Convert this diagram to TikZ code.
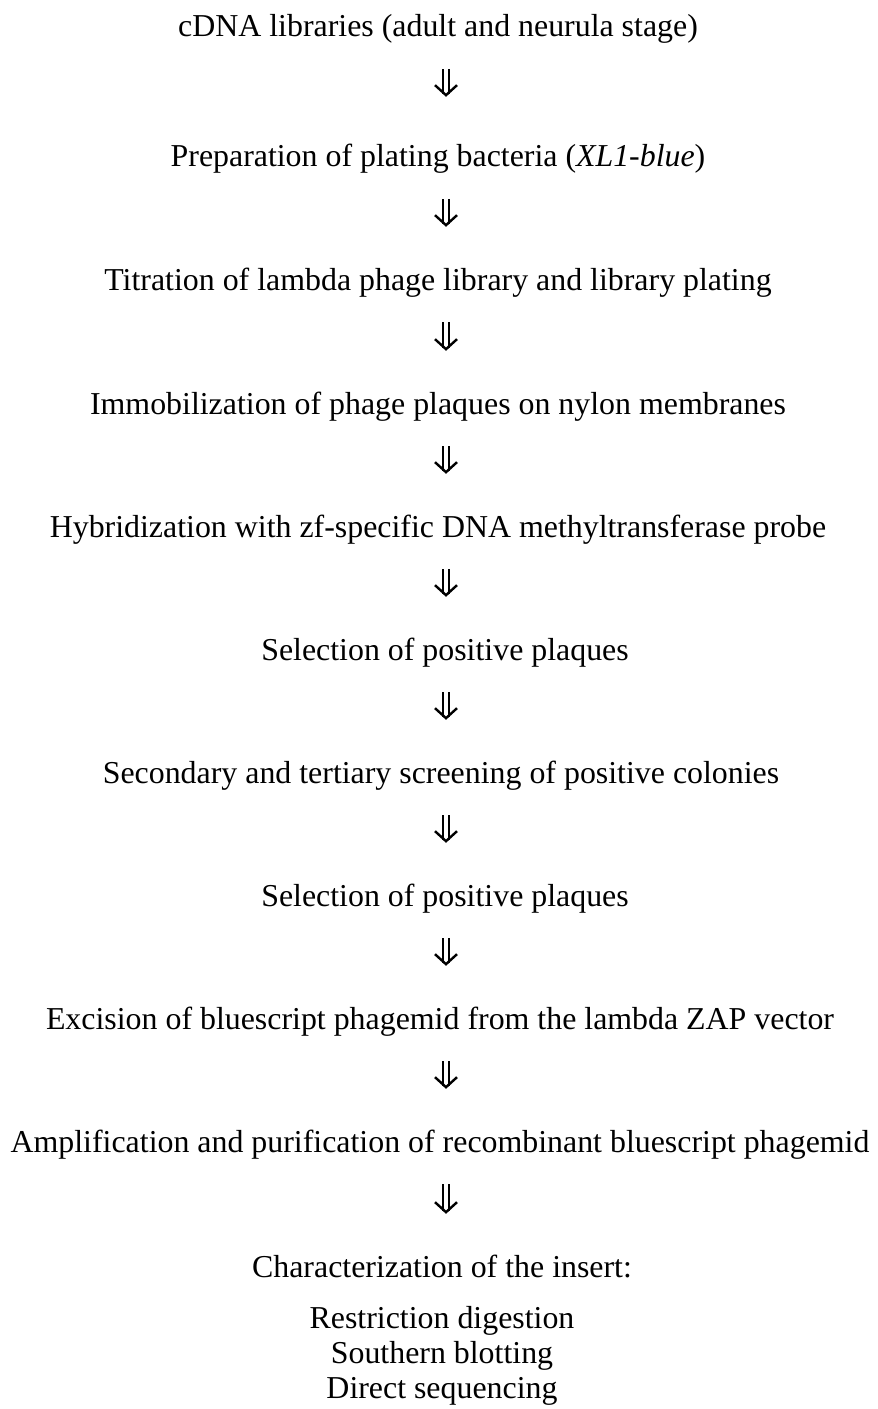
\documentclass[tikz,border=0pt]{standalone}
\usepackage{fontspec}
\setmainfont{Liberation Serif}
\usetikzlibrary{arrows.meta}

\tikzset{
  stage/.style={anchor=base, inner sep=0pt, text height=22bp, text depth=7bp, font=\fontsize{32}{35}\selectfont},
  flow/.style={double, double distance=4.5bp, line width=2.1bp,
               -{Straight Barb[length=10bp, width=22bp, line width=2.4bp]},
               shorten <=25bp, shorten >=41bp}
}

\begin{document}
\begin{tikzpicture}[x=1bp, y=-1bp]
            \useasboundingbox (0,0) rectangle (877,1409);
            % steps of the screening
            \node[stage] (libs)   at (438,37)   {cDNA libraries (adult and neurula stage)};
            \node[stage] (bact)   at (438,167)  {Preparation of plating bacteria (\textit{XL1-blue})};
            \node[stage] (titr)   at (438,290)  {Titration of lambda phage library and library plating};
            \node[stage] (immob)  at (438,414)  {Immobilization of phage plaques on nylon membranes};
            \node[stage] (hybr)   at (438,537)  {Hybridization with zf-specific DNA methyltransferase probe};
            \node[stage] (selA)   at (445,660)  {Selection of positive plaques};
            \node[stage] (screen) at (441,783)  {Secondary and tertiary screening of positive colonies};
            \node[stage] (selB)   at (445,906)  {Selection of positive plaques};
            \node[stage] (excis)  at (440,1029) {Excision of bluescript phagemid from the lambda ZAP vector};
            \node[stage] (ampl)   at (440,1152) {Amplification and purification of recombinant bluescript phagemid};
            \node[stage] (insert) at (442,1277) {Characterization of the insert:};
            \node[stage, align=center, text height=, text depth=]
                         (methods) at (442,1398) {Restriction digestion\\ Southern blotting\\ Direct sequencing};
            % arrows
            \draw[flow, shorten >=48bp] (libs.south -| 446,0) -- (bact.north -| 446,0);
            \foreach \a/\b in {bact/titr, titr/immob, immob/hybr, hybr/selA,
                               selA/screen, screen/selB, selB/excis, excis/ampl, ampl/insert}
              \draw[flow] (\a.south -| 446,0) -- (\b.north -| 446,0);
        \end{tikzpicture}
\end{document}
